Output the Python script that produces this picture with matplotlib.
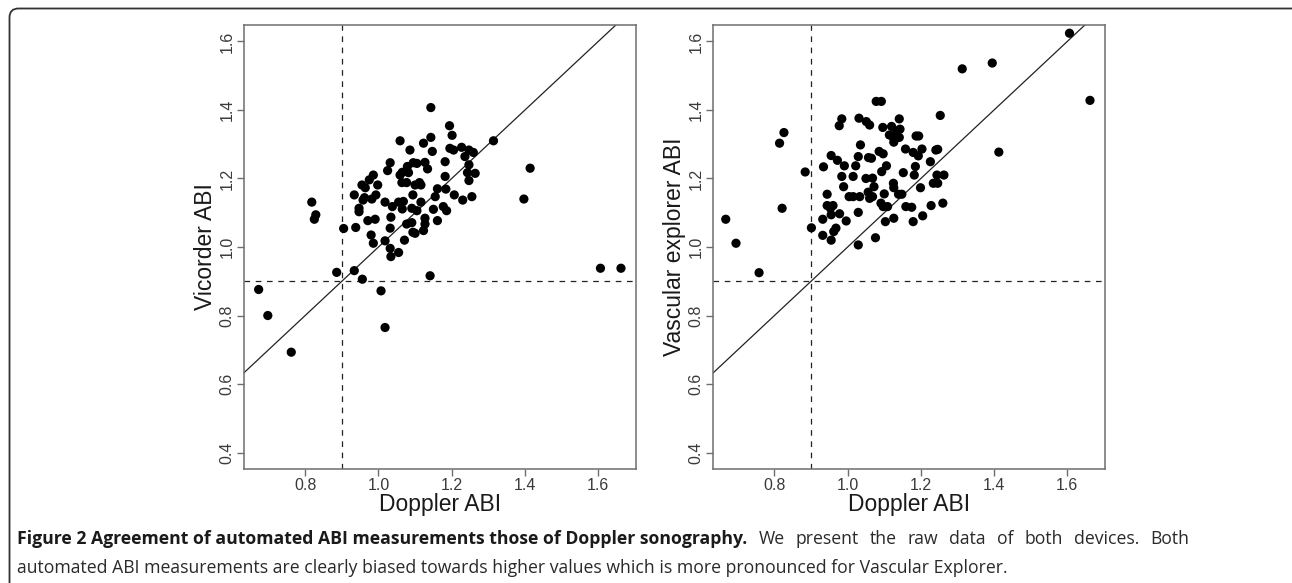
import matplotlib
matplotlib.use("Agg")
import matplotlib.pyplot as plt
from matplotlib import font_manager
from matplotlib.patches import FancyBboxPatch

# ---------------- data ----------------
vic_doppler = [0.818, 0.829, 0.825, 0.905, 0.886, 0.934, 0.956, 0.934, 0.938, 0.947, 0.947, 0.955,
               0.964, 0.958, 0.962, 0.971, 0.975, 0.986, 0.982, 0.993, 0.998, 0.991, 0.980, 0.986,
               1.018, 1.018, 1.032, 1.034, 1.055, 1.032, 1.034, 1.038, 1.025, 1.032, 1.059, 1.055,
               1.059, 1.065, 1.064, 1.068, 1.065, 1.071, 1.077, 1.079, 1.082, 1.077, 1.086, 1.095,
               1.094, 1.091, 1.091, 1.094, 1.100, 1.105, 1.100, 1.105, 1.112, 1.116, 1.116, 1.123,
               1.127, 1.134, 1.127, 1.127, 1.123, 1.143, 1.143, 1.147, 1.141, 1.150, 1.155, 1.161,
               1.161, 1.177, 1.186, 1.182, 1.182, 1.184, 1.194, 1.201, 1.195, 1.205, 1.207, 1.227,
               1.236, 1.247, 1.247, 1.243, 1.247, 1.230, 1.255, 1.259, 1.264, 1.314, 1.397, 1.414,
               1.606, 1.662, 0.673, 0.698, 0.762, 1.007, 1.018]
vicorder_abi = [1.131, 1.094, 1.081, 1.054, 0.926, 0.931, 0.906, 1.152, 1.057, 1.113, 1.103, 1.181,
                1.173, 1.137, 1.144, 1.077, 1.196, 1.210, 1.140, 1.152, 1.181, 1.081, 1.035, 1.011,
                1.131, 1.018, 0.996, 0.972, 0.984, 1.055, 1.087, 1.118, 1.223, 1.246, 1.310, 1.131,
                1.210, 1.218, 1.188, 1.133, 1.111, 1.020, 1.067, 1.235, 1.217, 1.188, 1.283, 1.246,
                1.152, 1.113, 1.071, 1.043, 1.040, 1.106, 1.181, 1.244, 1.188, 1.181, 1.131, 1.303,
                1.247, 1.228, 1.084, 1.067, 1.048, 1.407, 1.320, 1.279, 0.916, 1.110, 1.147, 1.170,
                1.077, 1.118, 1.106, 1.206, 1.249, 1.169, 1.354, 1.326, 1.288, 1.283, 1.152, 1.291,
                1.264, 1.283, 1.240, 1.217, 1.194, 1.137, 1.147, 1.276, 1.215, 1.310, 1.140, 1.230,
                0.938, 0.938, 0.876, 0.800, 0.693, 0.872, 0.765]

vasc_doppler = [0.667, 0.695, 0.758, 0.814, 0.826, 0.821, 0.884, 0.901, 0.934, 0.955, 0.972, 0.991,
                0.977, 0.984, 0.944, 0.944, 0.953, 0.960, 0.955, 0.932, 0.932, 0.955, 0.962, 0.968,
                0.978, 0.996, 0.984, 0.989, 1.004, 1.015, 1.015, 1.022, 1.029, 1.035, 1.031, 1.029,
                1.029, 1.033, 1.050, 1.051, 1.060, 1.056, 1.060, 1.065, 1.068, 1.068, 1.072, 1.076,
                1.078, 1.092, 1.086, 1.091, 1.093, 1.096, 1.097, 1.100, 1.097, 1.103, 1.106, 1.109,
                1.114, 1.120, 1.123, 1.126, 1.125, 1.126, 1.126, 1.134, 1.141, 1.141, 1.139, 1.148,
                1.143, 1.152, 1.158, 1.159, 1.175, 1.179, 1.179, 1.182, 1.185, 1.187, 1.193, 1.194,
                1.199, 1.203, 1.205, 1.226, 1.228, 1.234, 1.241, 1.246, 1.244, 1.246, 1.253, 1.260,
                1.263, 1.313, 1.395, 1.413, 1.606, 1.662, 1.057]
vasc_explorer_abi = [1.081, 1.011, 0.925, 1.303, 1.334, 1.113, 1.219, 1.056, 1.234, 1.267, 1.253, 1.237,
                     1.354, 1.374, 1.154, 1.121, 1.113, 1.121, 1.094, 1.081, 1.034, 1.020, 1.045, 1.055,
                     1.097, 1.076, 1.206, 1.176, 1.147, 1.147, 1.206, 1.237, 1.264, 1.298, 1.376, 1.101,
                     1.006, 1.147, 1.200, 1.366, 1.356, 1.160, 1.142, 1.259, 1.147, 1.201, 1.176, 1.027,
                     1.425, 1.425, 1.279, 1.128, 1.220, 1.349, 1.272, 1.155, 1.118, 1.074, 1.237, 1.118,
                     1.327, 1.352, 1.322, 1.306, 1.186, 1.173, 1.084, 1.339, 1.374, 1.320, 1.154, 1.154,
                     1.344, 1.217, 1.286, 1.118, 1.116, 1.074, 1.276, 1.210, 1.235, 1.324, 1.266, 1.324,
                     1.173, 1.286, 1.091, 1.249, 1.121, 1.186, 1.283, 1.285, 1.210, 1.186, 1.384, 1.128,
                     1.210, 1.520, 1.537, 1.277, 1.624, 1.428, 1.261]

x_ticks = [0.8, 1.0, 1.2, 1.4, 1.6]
y_ticks = [0.4, 0.6, 0.8, 1.0, 1.2, 1.4, 1.6]
x_label = "Doppler ABI"
y_labels = ["Vicorder ABI", "Vascular explorer ABI"]
cutoff = 0.9
caption_bold = "Figure 2 Agreement of automated ABI measurements those of Doppler sonography."
caption_rest1 = "We present the raw data of both devices. Both"
caption_line2 = ("automated ABI measurements are clearly biased towards higher values which is more "
                 "pronounced for Vascular Explorer.")

# ---------------- fonts ----------------
avail = {f.name for f in font_manager.fontManager.ttflist}
plot_font = "Liberation Sans" if "Liberation Sans" in avail else "DejaVu Sans"
cap_font = plot_font
for cand in ["Liberation Sans Narrow", "Open Sans", "Noto Sans"]:
    if cand in avail:
        cap_font = cand
        break
plt.rcParams["font.family"] = [plot_font, "DejaVu Sans"]

W, H = 1292, 583
fig = plt.figure(figsize=(W / 100, H / 100), dpi=100)

# background axes in pixel units for the rounded frame
bg = fig.add_axes([0, 0, 1, 1], zorder=-10)
bg.set_xlim(0, W)
bg.set_ylim(H, 0)
bg.axis("off")
frame = FancyBboxPatch((9.5, 8.5), 1300, 600, boxstyle="round,pad=0,rounding_size=9",
                       fill=False, ec="#333333", lw=1.3)
bg.add_patch(frame)

panels = [
    ([244 / W, 1 - 469 / H, 392 / W, 444 / H], vic_doppler, vicorder_abi, y_labels[0]),
    ([713.3 / W, 1 - 469 / H, 391.7 / W, 444 / H], vasc_doppler, vasc_explorer_abi, y_labels[1]),
]

axis_gray = "#6e6e6e"
for rect, xs, ys, ylab in panels:
    ax = fig.add_axes(rect)
    ax.set_xlim(0.633, 1.703)
    ax.set_ylim(0.352, 1.648)
    ax.scatter(xs, ys, s=44, color="black", edgecolors="none", zorder=3)
    ax.axline((0, 0), slope=1, color="#222222", lw=0.9, zorder=2)
    ax.axvline(cutoff, color="#222222", lw=0.9, ls=(0, (4.5, 4.5)), zorder=2)
    ax.axhline(cutoff, color="#222222", lw=0.9, ls=(0, (4.5, 4.5)), zorder=2)
    ax.set_xticks(x_ticks)
    ax.set_xticklabels([f"{v:.1f}" for v in x_ticks])
    ax.set_yticks(y_ticks)
    ax.set_yticklabels([f"{v:.1f}" for v in y_ticks], rotation=90, va="center")
    for sp in ax.spines.values():
        sp.set_color(axis_gray)
        sp.set_linewidth(1.1)
    ax.tick_params(axis="both", direction="out", length=5, width=1.0, color=axis_gray,
                   labelsize=11.5, labelcolor="#3a3a3a")
    ax.tick_params(axis="x", pad=1.5)
    ax.tick_params(axis="y", pad=2)
    ax.set_xlabel(x_label, fontsize=16.5, color="#1a1a1a", labelpad=0)
    ax.set_ylabel(ylab, fontsize=16.5, color="#1a1a1a", labelpad=1.5)

# ---------------- caption ----------------
fig.canvas.draw()
renderer = fig.canvas.get_renderer()
fam = [cap_font, "DejaVu Sans"]
cap_size = 12.7
x0 = 17 / W
y1 = 1 - 544 / H
y2 = 1 - 573 / H
tb = fig.text(x0, y1, caption_bold, fontsize=cap_size, fontweight="bold", family=fam,
              color="#1a1a1a", va="baseline", ha="left")
bold_end = tb.get_window_extent(renderer).x1

# justified remainder of line 1
words = caption_rest1.split()
word_artists = []
widths = []
for w in words:
    t = fig.text(0, y1, w, fontsize=cap_size, family=fam, color="#2a2a2a", va="baseline", ha="left")
    word_artists.append(t)
    widths.append(t.get_window_extent(renderer).width)
line_end = 1189
n_gaps = len(words)  # includes gap after the bold part
gap = (line_end - bold_end - sum(widths)) / n_gaps
xpos = bold_end + gap
for t, wd in zip(word_artists, widths):
    t.set_x(xpos / W)
    xpos += wd + gap

fig.text(x0, y2, caption_line2, fontsize=cap_size, family=fam,
         color="#2a2a2a", va="baseline", ha="left")

fig.savefig("out.png", dpi=100)
